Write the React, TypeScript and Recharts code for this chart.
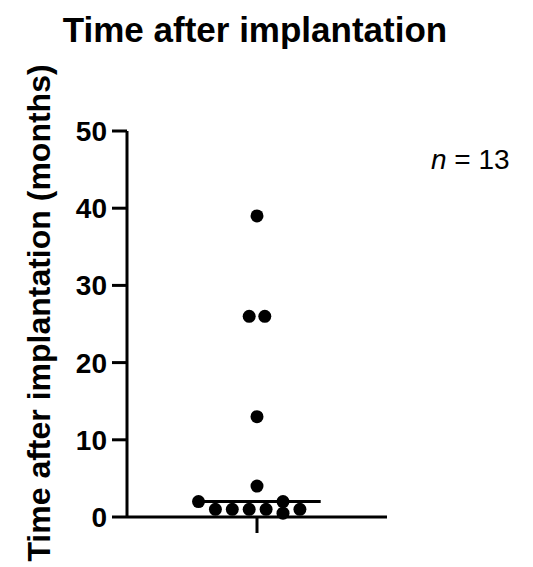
import { ScatterChart, Scatter, XAxis, YAxis, ReferenceLine, Label } from "recharts";

// months after implantation, one value per patient, with horizontal jitter offsets
const months = [39, 26, 26, 13, 4, 2, 2, 1, 1, 1, 1, 1, 0.5];
const jitter = [0, -0.06, 0.06, 0, 0, -0.45, 0.2, -0.32, -0.19, -0.06, 0.07, 0.33, 0.2];
const yTicks = [0, 10, 20, 30, 40, 50];
const median = 2;
const medianSpan = [-0.44, 0.49];

const font = "'Liberation Sans', Arial, sans-serif";

const points = months.map((v, i) => ({ x: jitter[i], y: v }));

const Dot = (props: any) => <circle cx={props.cx} cy={props.cy} r={6.5} fill="#000" />;

const YLabel = () => (
  <text
    x={50}
    y={313}
    transform="rotate(-90 50 313)"
    textAnchor="middle"
    fontFamily={font}
    fontWeight="bold"
    fontSize={32}
    fill="#000"
  >
    Time after implantation (months)
  </text>
);

export default function App() {
  return (
    <div style={{ position: "absolute", left: 0, top: 0, width: 533, height: 567, background: "#fff" }}>
      <div
        style={{
          position: "absolute",
          left: 0,
          width: 510,
          top: 10,
          textAlign: "center",
          fontFamily: font,
          fontWeight: "bold",
          fontSize: 35,
          lineHeight: "40px",
        }}
      >
        Time after implantation
      </div>
      <div
        style={{
          position: "absolute",
          left: 431,
          top: 144,
          fontFamily: font,
          fontSize: 28,
          lineHeight: "32px",
        }}
      >
        <i>n</i> = 13
      </div>
      <ScatterChart width={533} height={567} margin={{ top: 131, right: 146, bottom: 20, left: 47 }}>
        <XAxis
          type="number"
          dataKey="x"
          domain={[-1, 1]}
          ticks={[0]}
          tickFormatter={() => ""}
          tickSize={16}
          height={30}
          axisLine={{ stroke: "#000", strokeWidth: 3 }}
          tickLine={{ stroke: "#000", strokeWidth: 3 }}
        />
        <YAxis
          type="number"
          dataKey="y"
          domain={[0, 50]}
          ticks={yTicks}
          interval={0}
          width={80}
          tickSize={15}
          tickMargin={5}
          axisLine={{ stroke: "#000", strokeWidth: 3 }}
          tickLine={{ stroke: "#000", strokeWidth: 3 }}
          tick={{ fill: "#000", fontFamily: font, fontWeight: "bold", fontSize: 28 }}
        >
          <Label content={YLabel} />
        </YAxis>
        <ReferenceLine
          segment={[
            { x: medianSpan[0], y: median },
            { x: medianSpan[1], y: median },
          ]}
          stroke="#000"
          strokeWidth={3}
        />
        <Scatter data={points} fill="#000" shape={Dot} isAnimationActive={false} />
      </ScatterChart>
    </div>
  );
}
